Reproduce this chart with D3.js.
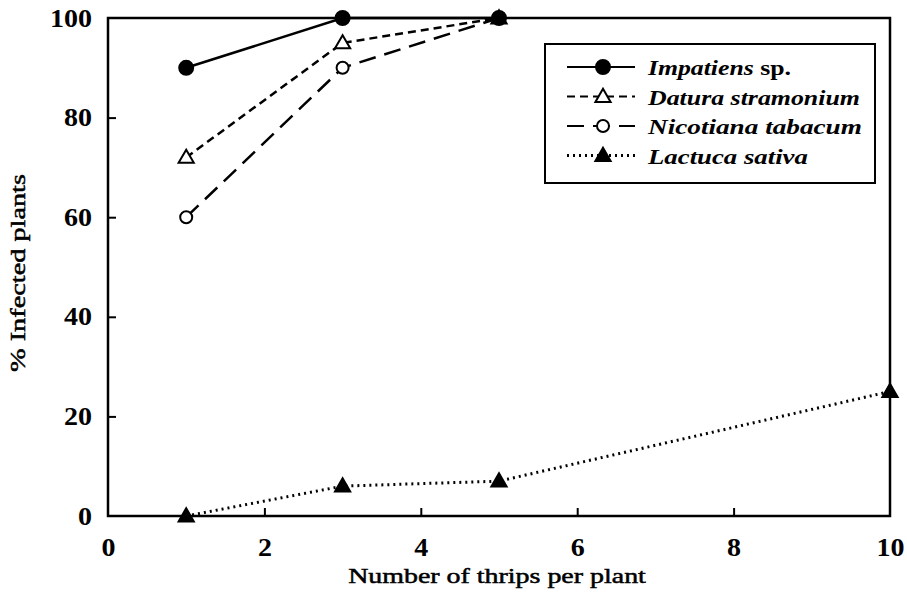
<!DOCTYPE html>
<html>
<head>
<meta charset="utf-8">
<script src="https://cdn.jsdelivr.net/npm/d3@7"></script>
<style>
  body { margin: 0; background: #fff; }
  text { font-family: "Liberation Serif", "Times New Roman", serif; fill: #000; }
  .axis-title { stroke: #000; stroke-width: 0.5px; }
</style>
</head>
<body>
<div id="chart"></div>
<script>
// data
const thrips = [1, 3, 5, 10];
const impatiens = [90, 100, 100];
const datura = [72, 95, 100];
const nicotiana = [60, 90, 100];
const lactuca = [0, 6, 7, 25];
const xTicks = [0, 2, 4, 6, 8, 10];
const yTicks = [0, 20, 40, 60, 80, 100];

const series = [
  { name: "Impatiens", suffix: " sp.", values: impatiens, dash: null, marker: "circle", filled: true, len: 143 },
  { name: "Datura stramonium", suffix: "", values: datura, dash: "8,5", marker: "triangle", filled: false, len: 212 },
  { name: "Nicotiana tabacum", suffix: "", values: nicotiana, dash: "17,9", marker: "circle", filled: false, len: 214 },
  { name: "Lactuca sativa", suffix: "", values: lactuca, dash: "2,4", marker: "triangle", filled: true, len: 160 }
];

const W = 907, H = 593;
const margin = { top: 18, right: 17, bottom: 77, left: 108 };
const width = W - margin.left - margin.right;
const height = H - margin.top - margin.bottom;

const svg = d3.select("#chart").append("svg")
  .attr("width", W).attr("height", H);

// the printed font is wider than Liberation Serif, so stretch glyphs horizontally
function stretch(node, target) {
  const s = target / node.getComputedTextLength();
  const tx = +node.getAttribute("x") || 0;
  const ty = +node.getAttribute("y") || 0;
  node.setAttribute("x", 0);
  node.setAttribute("y", 0);
  node.setAttribute("transform", `translate(${tx},${ty}) scale(${s},1)`);
}

const chart = svg.append("g")
  .attr("transform", `translate(${margin.left},${margin.top})`);

const x = d3.scaleLinear().domain([0, 10]).range([0, width]);
const y = d3.scaleLinear().domain([0, 100]).range([height, 0]);

// frame
chart.append("rect")
  .attr("width", width).attr("height", height)
  .attr("fill", "none").attr("stroke", "#000").attr("stroke-width", 2.5);

// inward ticks
const xAxis = chart.append("g")
  .attr("transform", `translate(0,${height})`)
  .call(d3.axisBottom(x).tickValues(xTicks).tickSizeInner(-8).tickSizeOuter(0).tickPadding(22));
const yAxis = chart.append("g")
  .call(d3.axisLeft(y).tickValues(yTicks).tickSizeInner(-8).tickSizeOuter(0).tickPadding(16));

[xAxis, yAxis].forEach(a => {
  a.select(".domain").remove();
  a.selectAll(".tick line").attr("stroke", "#000").attr("stroke-width", 2);
  a.selectAll(".tick text")
    .style("font-family", "Liberation Serif")
    .style("font-size", "25px").style("font-weight", "bold")
    .each(function(d) { stretch(this, String(d).length * 14); });
});
xAxis.selectAll(".tick").filter(d => d === 0 || d === 10).select("line").remove();
yAxis.selectAll(".tick").filter(d => d === 0 || d === 100).select("line").remove();

// axis titles
svg.append("text")
  .attr("class", "axis-title")
  .attr("x", margin.left + width / 2 - 2).attr("y", 583)
  .attr("text-anchor", "middle")
  .style("font-size", "22px")
  .text("Number of thrips per plant")
  .each(function() { stretch(this, 298); });

svg.append("g")
  .attr("transform", `translate(25,${margin.top + height / 2 + 6}) rotate(-90)`)
  .append("text")
  .attr("class", "axis-title")
  .attr("text-anchor", "middle")
  .style("font-size", "22px")
  .text("% Infected plants")
  .each(function() { stretch(this, 198); });

const line = d3.line()
  .x((d, i) => x(thrips[i]))
  .y(d => y(d));

const tri = d3.symbol().type(d3.symbolTriangle).size(100);

function drawMarker(g, s, cx, cy) {
  if (s.marker === "circle") {
    g.append("circle")
      .attr("cx", cx).attr("cy", cy)
      .attr("r", s.filled ? 7 : 6)
      .attr("fill", s.filled ? "#000" : "#fff")
      .attr("stroke", "#000").attr("stroke-width", 2);
  } else {
    g.append("path")
      .attr("d", tri())
      .attr("transform", `translate(${cx},${cy + 1})`)
      .attr("fill", s.filled ? "#000" : "#fff")
      .attr("stroke", "#000").attr("stroke-width", 2);
  }
}

// draw series, last first so Impatiens sits on top
series.slice().reverse().forEach(s => {
  const g = chart.append("g");
  g.append("path")
    .datum(s.values)
    .attr("d", line)
    .attr("fill", "none")
    .attr("stroke", "#000")
    .attr("stroke-width", s.dash === "2,4" ? 3 : 2.5)
    .attr("stroke-dasharray", s.dash);
  s.values.forEach((v, i) => drawMarker(g, s, x(thrips[i]), y(v)));
});

// legend
const legend = svg.append("g").attr("transform", "translate(545,44)");
legend.append("rect")
  .attr("width", 330).attr("height", 139)
  .attr("fill", "#fff").attr("stroke", "#000").attr("stroke-width", 2);

series.forEach((s, i) => {
  const row = legend.append("g").attr("transform", `translate(0,${23 + i * 29.5})`);
  row.append("line")
    .attr("x1", 22).attr("x2", 90)
    .attr("stroke", "#000")
    .attr("stroke-width", s.dash === "2,4" ? 3 : 2)
    .attr("stroke-dasharray", s.dash);
  drawMarker(row, s, 58, 0);
  const t = row.append("text")
    .attr("x", 103).attr("y", 8)
    .style("font-size", "22px").style("font-weight", "bold");
  t.append("tspan").style("font-style", "italic").text(s.name);
  if (s.suffix) t.append("tspan").text(s.suffix);
  stretch(t.node(), s.len);
});
</script>
</body>
</html>
